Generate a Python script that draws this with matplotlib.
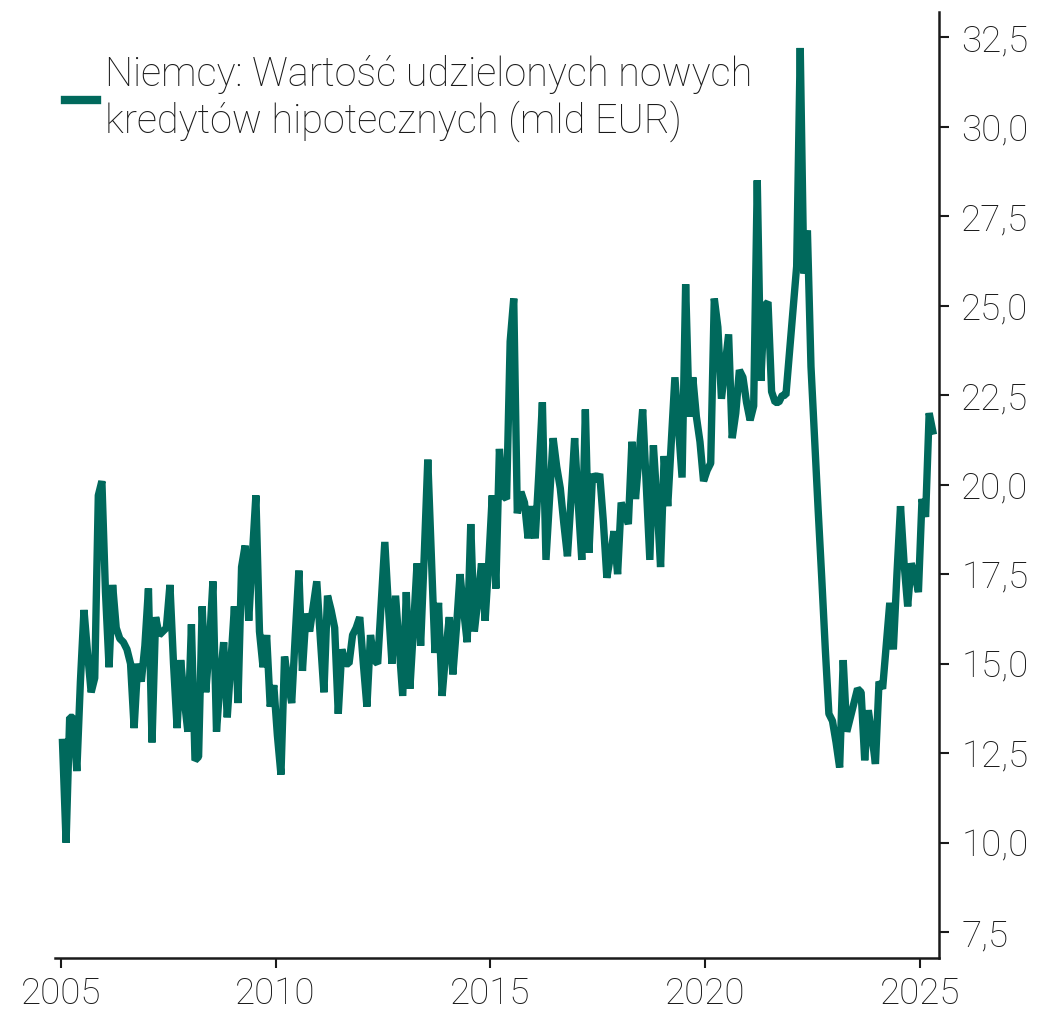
import numpy as np
import matplotlib
matplotlib.use("Agg")
import matplotlib.pyplot as plt
from matplotlib.ticker import FuncFormatter

# monthly data, starting January 2005
start_year = 2005
values = [
    12.8, 10.0, 13.5, 13.5, 12.0, 14.5, 16.5, 15.3, 14.2, 14.6, 19.7, 20.1,
    17.0, 14.9, 17.2, 16.0, 15.7, 15.6, 15.4, 15.0, 13.2, 15.0, 14.5, 15.5,
    17.1, 12.8, 16.3, 15.8, 15.9, 16.0, 17.2, 15.0, 13.2, 15.1, 14.0, 13.1,
    16.1, 12.3, 12.4, 16.6, 14.2, 15.5, 17.3, 13.1, 14.5, 15.6, 13.5, 15.0,
    16.6, 13.9, 17.7, 18.3, 16.2, 18.0, 19.7, 15.9, 14.9, 15.8, 13.8, 14.4,
    13.0, 11.9, 15.2, 14.5, 13.9, 15.8, 17.6, 14.8, 16.4, 15.9, 16.6, 17.3,
    15.7, 14.2, 16.9, 16.5, 16.0, 13.6, 15.4, 15.0, 15.0, 15.8, 16.0, 16.3,
    15.0, 13.8, 15.8, 15.1, 15.0, 16.7, 18.4, 16.6, 15.0, 16.9, 15.5, 14.1,
    17.0, 14.3, 16.0, 17.8, 15.5, 18.0, 20.7, 18.0, 15.3, 16.7, 14.1, 15.3,
    16.3, 14.7, 16.0, 17.5, 16.5, 15.6, 18.9, 15.9, 16.8, 17.8, 16.2, 17.8,
    19.7, 17.1, 21.0, 19.7, 19.6, 24.0, 25.2, 19.2, 19.8, 19.5, 18.5, 19.4,
    18.5, 20.3, 22.3, 17.9, 19.6, 21.3, 20.5, 19.9, 18.9, 18.0, 19.6, 21.3,
    19.5, 17.9, 22.1, 18.1, 20.3, 20.1, 20.3, 19.0, 17.4, 18.0, 18.7, 17.5,
    19.5, 19.2, 18.9, 21.2, 19.6, 20.8, 22.1, 20.0, 17.9, 21.1, 19.5, 17.7,
    20.8, 19.4, 21.2, 23.0, 21.6, 20.2, 25.6, 21.9, 23.0, 21.9, 21.2, 20.1,
    20.4, 20.6, 25.2, 24.4, 22.4, 23.3, 24.2, 21.3, 22.0, 23.2, 23.0, 22.3,
    21.8, 22.2, 28.5, 22.9, 25.0, 25.1, 22.6, 22.3, 22.3, 22.5, 22.5, 23.7,
    24.9, 26.1, 32.2, 25.9, 27.1, 23.3, 21.3, 19.3, 17.4, 15.4, 13.6, 13.4,
    12.8, 12.1, 15.1, 13.1, 13.5, 13.9, 14.3, 14.2, 12.3, 13.7, 13.0, 12.2,
    14.5, 14.3, 15.5, 16.7, 15.4, 17.5, 19.4, 17.8, 16.6, 17.8, 17.5, 17.0,
    19.6, 19.1, 22.0, 21.5,
]
label = "Niemcy: Wartość udzielonych nowych\nkredytów hipotecznych (mld EUR)"
x_ticks = [2005, 2010, 2015, 2020, 2025]
y_ticks = [7.5, 10.0, 12.5, 15.0, 17.5, 20.0, 22.5, 25.0, 27.5, 30.0, 32.5]

color = "#00695c"
text_color = "#1a1a1a"

plt.rcParams["font.family"] = ["Roboto", "DejaVu Sans"]
plt.rcParams["font.weight"] = "light"

fig = plt.figure(figsize=(10.4, 10.13), dpi=100)
ax = fig.add_axes([0.053, 0.054, 0.850, 0.934])

# mid-month positions
x = start_year + (np.arange(len(values)) + 0.5) / 12.0
ax.plot(x, values, color=color, lw=5.3, solid_joinstyle="bevel", label=label)

ax.set_xlim(2004.87, 2025.44)
ax.set_ylim(6.77, 33.2)

# axes: only bottom and right
for side in ["left", "top"]:
    ax.spines[side].set_visible(False)
for side in ["bottom", "right"]:
    ax.spines[side].set_linewidth(1.8)
    ax.spines[side].set_color(text_color)

ax.yaxis.tick_right()
ax.set_xticks(x_ticks)
ax.set_yticks(y_ticks)
ax.yaxis.set_major_formatter(FuncFormatter(lambda v, p: f"{v:.1f}".replace(".", ",")))
ax.tick_params(axis="both", length=7, width=1.5, color=text_color,
               labelsize=26.5, labelcolor=text_color)
ax.tick_params(axis="y", pad=9)
ax.tick_params(axis="x", pad=6)

leg = ax.legend(loc="upper left", bbox_to_anchor=(65 / 1040, 1 - 55 / 1013),
                bbox_transform=fig.transFigure, frameon=False, borderpad=0,
                borderaxespad=0, fontsize=28.5, handlelength=0.8,
                handletextpad=0.2, labelcolor=text_color)
for h in leg.get_lines():
    h.set_linewidth(6)
for t in leg.get_texts():
    t.set_linespacing(1.2)

fig.savefig("out.png", dpi=100)
